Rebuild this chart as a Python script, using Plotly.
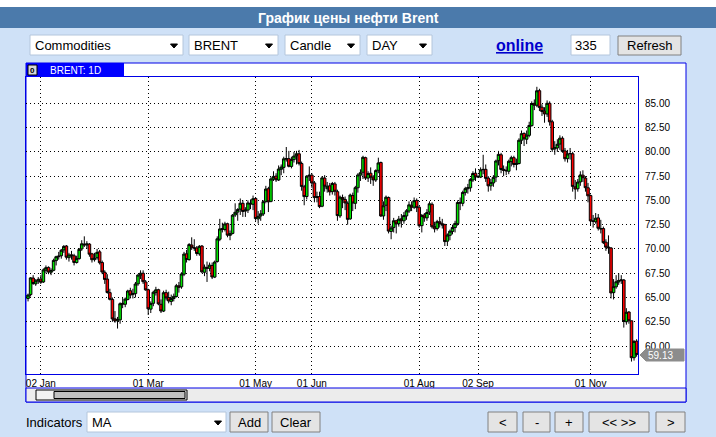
import pandas as pd
import plotly.graph_objects as go

W, H = 716, 437

# ICE Brent daily bars, 22 Dec 2017 .. 27 Nov 2018
closed_days = ["2017-12-25", "2018-01-01", "2018-03-30", "2018-05-28", "2018-07-04"]
extra_days = ["2018-09-02"]  # the feed carries a Sunday bar here

tick_days = ["2018-01-02", "2018-03-01", "2018-05-01", "2018-06-01",
             "2018-08-01", "2018-09-02", "2018-11-01"]
tick_text = ["02 Jan", "01 Mar", "01 May", "01 Jun", "01 Aug", "02 Sep", "01 Nov"]
price_ticks = [60, 62.5, 65, 67.5, 70, 72.5, 75, 77.5, 80, 82.5, 85]
last_price = "59.13"

open_prices = [
    64.9, 65.3, 67.0, 66.4, 66.7,  # Dec
    66.9, 66.6, 67.8, 68.1, 67.6, 67.8, 68.8, 69.2, 69.3, 69.9, 70.3, 69.1, 69.4, 69.3, 68.6, 69.0, 70.0, 70.5, 70.4, 70.5, 69.5, 68.9,  # Jan
    69.1, 69.7, 68.6, 67.6, 66.9, 65.5, 64.8, 62.8, 62.6, 62.7, 64.4, 64.3, 64.8, 65.7, 65.3, 65.4, 66.4, 67.3, 67.5, 66.6,  # Feb
    65.8, 63.8, 64.4, 65.5, 65.8, 64.3, 63.6, 65.5, 65.0, 64.6, 64.9, 65.1, 66.2, 66.1, 67.4, 69.5, 68.9, 70.4, 70.1, 70.1, 69.5,  # Mar
    70.3, 67.6, 68.1, 68.0, 68.3, 67.1, 68.7, 71.0, 72.1, 72.0, 72.6, 71.4, 71.6, 73.5, 73.8, 74.1, 74.7, 73.9, 74.0, 74.7, 74.6,  # Apr
    75.2, 73.1, 73.4, 73.6, 74.9, 76.2, 74.9, 77.2, 77.5, 77.1, 78.2, 78.4, 79.25, 79.3, 78.5, 79.2, 79.6, 79.8, 78.8, 76.4, 75.4, 77.5,  # May
    77.6, 76.8, 75.3, 75.4, 74.4, 77.3, 76.2, 76.5, 75.9, 76.7, 75.9, 73.4, 75.3, 75.1, 74.7, 73.1, 75.5, 74.7, 76.3, 77.6, 77.9,  # Jun
    79.4, 77.3, 77.8, 77.4, 77.1, 78.1, 78.9, 73.4, 74.5, 75.3, 71.8, 72.2, 72.9, 72.6, 73.1, 72.9, 73.4, 73.9, 74.5, 74.3, 75.0,  # Jul
    74.3, 72.4, 73.5, 73.2, 73.8, 74.6, 72.3, 72.1, 72.8, 72.6, 72.5, 70.8, 71.4, 71.8, 72.2, 72.6, 74.8, 74.7, 75.8, 76.2, 76.3, 77.1, 77.8,  # Aug
    77.42, 77.4, 78.2, 78.2, 77.3, 76.5, 76.8, 77.4, 79.1, 79.7, 78.2, 78.1, 78.0, 79.0, 79.4, 78.7, 78.8, 81.2, 81.9, 81.3, 81.7,  # Sep
    82.7, 85.0, 84.8, 86.3, 84.6, 84.2, 83.9, 85.0, 83.1, 80.3, 80.4, 80.8, 81.4, 80.1, 79.3, 79.8, 79.8, 76.4, 76.2, 76.9, 77.6, 77.3, 76.3,  # Oct
    75.5, 72.9, 72.8, 73.2, 72.1, 72.1, 70.7, 70.2, 70.1, 65.5, 66.1, 66.6, 66.8, 66.8, 62.5, 63.5, 62.6, 58.8, 60.5,  # Nov
]
high_prices = [
    65.4, 67.1, 67.3, 66.9, 67.1,
    67.3, 68.0, 68.3, 68.2, 68.0, 69.0, 69.3, 69.7, 70.0, 70.4, 70.4, 69.6, 69.8, 69.5, 69.3, 70.1, 70.9, 71.3, 70.8, 70.6, 69.6, 69.6,
    70.0, 69.9, 68.8, 67.8, 67.4, 65.9, 65.0, 63.6, 63.0, 64.5, 65.0, 65.0, 65.8, 66.0, 65.9, 66.6, 67.4, 67.8, 67.8, 66.8,
    65.9, 64.6, 65.7, 66.1, 65.9, 64.8, 65.7, 65.8, 65.6, 65.3, 65.4, 66.4, 66.6, 67.6, 69.7, 69.9, 70.6, 71.2, 71.0, 70.3, 70.4,
    70.4, 68.4, 68.7, 68.6, 68.6, 68.8, 71.3, 73.1, 72.7, 72.8, 72.7, 71.9, 73.6, 74.7, 74.2, 75.2, 75.0, 74.3, 75.0, 75.1, 75.5,
    75.3, 73.9, 74.0, 75.0, 76.5, 76.4, 77.4, 78.0, 77.8, 78.6, 78.7, 79.5, 80.5, 80.1, 79.5, 80.0, 80.1, 80.2, 79.0, 76.6, 77.6, 78.5,
    77.8, 77.0, 75.9, 75.9, 77.5, 77.6, 76.9, 76.8, 76.9, 76.9, 76.1, 75.5, 75.6, 75.4, 74.9, 75.7, 75.8, 76.5, 77.8, 78.2, 79.6,
    79.5, 78.0, 78.4, 77.6, 78.2, 79.4, 79.0, 74.9, 75.5, 75.4, 72.4, 73.2, 73.0, 73.4, 73.6, 73.8, 74.1, 74.9, 74.9, 75.3, 75.2,
    74.4, 73.6, 73.7, 74.1, 74.9, 74.8, 72.8, 73.0, 73.3, 73.1, 72.6, 71.6, 72.0, 72.5, 72.9, 75.0, 75.3, 76.0, 76.4, 76.7, 77.3, 78.0, 78.3,
    77.6, 78.4, 79.7, 78.7, 77.5, 77.2, 77.6, 79.2, 80.1, 79.9, 78.6, 78.5, 79.2, 79.6, 79.6, 79.3, 81.4, 82.2, 82.0, 82.2, 83.1,
    85.2, 85.4, 86.7, 86.5, 84.9, 84.6, 85.3, 85.2, 83.3, 81.1, 81.3, 81.7, 81.6, 80.4, 80.2, 80.4, 80.0, 77.1, 77.2, 78.0, 78.1, 77.5, 76.8,
    75.6, 73.5, 73.7, 73.6, 73.0, 72.3, 71.0, 71.4, 70.2, 66.9, 67.3, 67.5, 67.3, 66.9, 63.9, 63.6, 62.6, 60.6, 60.7,
]
low_prices = [
    64.6, 65.1, 66.3, 66.2, 66.4,
    66.4, 66.5, 67.5, 67.4, 67.3, 67.7, 68.3, 68.9, 69.0, 69.6, 68.9, 68.7, 68.9, 68.3, 68.5, 68.9, 69.8, 70.2, 70.0, 69.2, 68.6, 68.7,
    68.9, 68.4, 67.4, 66.4, 65.4, 64.7, 62.5, 62.4, 61.8, 62.3, 63.9, 64.0, 64.7, 64.9, 64.9, 65.0, 66.2, 66.9, 66.4, 65.7,
    63.2, 63.4, 64.1, 65.2, 64.2, 63.4, 63.5, 64.7, 64.4, 64.2, 64.6, 65.0, 65.5, 65.9, 67.2, 68.6, 68.8, 69.9, 69.8, 69.3, 69.3,
    67.5, 67.2, 66.6, 67.7, 66.9, 67.0, 68.6, 70.8, 71.7, 71.8, 71.2, 70.9, 71.5, 73.3, 72.9, 73.5, 73.3, 73.3, 73.7, 74.1, 74.0,
    72.9, 72.6, 72.9, 73.4, 74.7, 73.8, 74.8, 77.0, 76.9, 77.0, 77.6, 77.8, 79.0, 78.4, 78.3, 78.9, 78.7, 78.6, 76.0, 74.5, 75.1, 77.0,
    76.3, 74.8, 74.8, 74.2, 74.3, 75.9, 75.8, 75.5, 75.6, 75.5, 72.9, 73.2, 74.2, 74.0, 72.5, 73.0, 73.9, 74.1, 75.8, 77.0, 77.2,
    77.1, 76.9, 76.7, 76.5, 76.9, 77.8, 73.3, 73.0, 73.9, 71.6, 71.0, 71.7, 71.6, 72.3, 72.2, 72.6, 73.0, 73.7, 73.9, 74.1, 73.8,
    72.2, 71.7, 72.8, 72.9, 73.5, 72.1, 71.7, 71.9, 72.2, 72.1, 70.3, 70.3, 70.9, 71.5, 71.7, 72.4, 74.0, 74.4, 75.5, 75.7, 75.9, 76.9, 77.0,
    77.3, 77.3, 77.7, 76.9, 75.9, 76.0, 76.4, 76.9, 78.6, 77.8, 77.5, 77.6, 77.7, 78.5, 78.4, 78.1, 78.7, 80.8, 80.6, 80.8, 81.5,
    82.6, 84.3, 84.6, 84.2, 83.7, 83.0, 83.6, 82.7, 80.0, 79.7, 80.0, 80.2, 79.9, 79.0, 78.9, 79.2, 75.9, 75.1, 75.9, 76.5, 76.9, 75.9, 74.8,
    72.5, 72.2, 72.6, 71.9, 71.6, 70.5, 69.8, 69.5, 64.9, 64.8, 65.9, 66.3, 66.4, 61.9, 62.2, 62.3, 58.4, 58.5, 58.9,
]
close_prices = [
    65.25, 67.02, 66.44, 66.72, 66.87,
    66.57, 67.84, 68.07, 67.62, 67.78, 68.82, 69.20, 69.26, 69.87, 70.26, 69.15, 69.38, 69.31, 68.61, 69.03, 69.96, 70.53, 70.42, 70.52, 69.46, 68.89, 69.05,
    69.65, 68.58, 67.62, 66.86, 65.51, 64.81, 62.79, 62.59, 62.72, 64.36, 64.33, 64.84, 65.67, 65.25, 65.42, 66.39, 67.31, 67.50, 66.63, 65.78,
    63.83, 64.37, 65.54, 65.79, 64.34, 63.61, 65.49, 64.95, 64.64, 64.89, 65.12, 66.21, 66.05, 67.42, 69.47, 68.91, 70.45, 70.12, 70.11, 69.53, 70.27,
    67.64, 68.12, 68.02, 68.33, 67.11, 68.65, 71.04, 72.06, 72.02, 72.58, 71.42, 71.58, 73.48, 73.78, 74.06, 74.71, 73.86, 74.00, 74.74, 74.64, 75.17,
    73.13, 73.36, 73.62, 74.87, 76.17, 74.85, 77.21, 77.47, 77.12, 78.23, 78.43, 79.28, 79.30, 78.51, 79.22, 79.57, 79.80, 78.79, 76.44, 75.39, 77.50, 77.59,
    76.79, 75.29, 75.38, 74.36, 77.32, 76.46, 76.46, 75.88, 76.74, 75.94, 73.44, 75.34, 75.08, 74.74, 73.05, 75.55, 74.73, 76.31, 77.62, 77.85, 79.44,
    77.30, 77.76, 77.39, 77.11, 78.07, 78.86, 73.40, 74.45, 75.33, 71.84, 72.16, 72.90, 72.58, 73.07, 72.91, 73.44, 73.93, 74.54, 74.29, 74.97, 74.25,
    72.39, 73.45, 73.21, 73.75, 74.65, 72.28, 72.07, 72.81, 72.61, 72.46, 70.76, 71.43, 71.83, 72.21, 72.63, 74.78, 74.73, 75.82, 76.21, 76.31, 77.14, 77.77, 77.42,
    77.45, 78.15, 78.17, 77.27, 76.50, 76.83, 77.37, 79.06, 79.74, 78.18, 78.09, 78.05, 79.03, 79.40, 78.70, 78.80, 81.20, 81.87, 81.34, 81.72, 82.72,
    84.98, 84.80, 86.29, 84.58, 84.16, 83.91, 85.00, 83.09, 80.26, 80.43, 80.78, 81.41, 80.05, 79.29, 79.78, 79.83, 76.44, 76.17, 76.89, 77.62, 77.34, 76.31, 75.47,
    72.89, 72.83, 73.17, 72.13, 72.07, 70.65, 70.18, 70.12, 65.47, 66.12, 66.62, 66.76, 66.79, 62.53, 63.48, 62.60, 58.80, 60.48, 59.13,
]

days = pd.bdate_range("2017-12-22", "2018-11-27").strftime("%Y-%m-%d").tolist()
days = sorted((set(days) - set(closed_days)) | set(extra_days))
assert len(days) == len(open_prices) == len(high_prices) == len(low_prices) == len(close_prices)

UI_FONT = "Liberation Sans, Arial, sans-serif"
BG = "#cfe1f7"
BLUE = "#0000e6"

# pixel helpers (layout is drawn in page pixels)
def fx(px):
    return px / W

def fy(py):
    return 1 - py / H

shapes = []
annotations = []

def box(x0, y0, x1, y1, fill, line="rgba(0,0,0,0)", lw=1, layer="above"):
    shapes.append(dict(type="rect", xref="paper", yref="paper",
                       x0=fx(x0), x1=fx(x1), y0=fy(y1), y1=fy(y0),
                       fillcolor=fill, line=dict(color=line, width=lw), layer=layer))

def tri(cx, cy):
    path = "M{},{} L{},{} L{},{} Z".format(fx(cx - 3.5), fy(cy - 2), fx(cx + 3.5), fy(cy - 2), fx(cx), fy(cy + 2))
    shapes.append(dict(type="path", xref="paper", yref="paper", path=path,
                       fillcolor="#000", line=dict(color="#000", width=1)))

def label(x, y, s, size=13, color="#000", anchor="left", bold=False):
    annotations.append(dict(xref="paper", yref="paper", x=fx(x), y=fy(y),
                            text="<b>%s</b>" % s if bold else s, showarrow=False,
                            xanchor=anchor, yanchor="middle",
                            font=dict(size=size, color=color, family=UI_FONT)))

def dropdown(x0, x1, text):
    box(x0, 35, x1, 55, "white", "#b4c6dc")
    label(x0 + 3, 45, text)
    tri(x1 - 9, 46)

def button(x0, y0, x1, y1, text):
    box(x0, y0, x1, y1, "#e4e4e4", "#808080")
    label((x0 + x1) / 2, (y0 + y1) / 2, text, anchor="center")

# page frame
box(0, 0, 716, 7, "white", layer="below")
box(0, 7, 716, 28, "#4b7aab", layer="below")
label(348, 18, "График цены нефти Brent", size=14, color="white", anchor="center", bold=True)

# top controls
dropdown(30, 183, "Commodities")
dropdown(189, 278, "BRENT")
dropdown(285, 360, "Candle")
dropdown(367, 432, "DAY")
label(519, 45, "<u>online</u>", size=16, color="#0000cc", anchor="center", bold=True)
box(571, 35, 610, 55, "white", "#b4c6dc")
label(573, 45, "335")
button(618, 36, 681, 55, "Refresh")

# chart panel
box(26, 63, 686, 402, "white", BLUE, layer="below")
box(26, 388, 686, 402, "#ececec", BLUE)
box(36, 390, 187, 400, "#f2f2f2", "#000")
box(54, 391.5, 185, 398.5, "#c0c0c0", "#000")
box(26, 63, 124, 77, "#0000ff")
box(28, 65, 37, 75, "#d8d8d8", "#000")
label(32.5, 70, "0", size=8, anchor="center", bold=True)
label(48, 70, "BRENT: 1D", size=10, color="white")

# last price tag
tag = "M{},{} L{},{} L{},{} L{},{} L{},{} Z".format(
    fx(640), fy(355), fx(646), fy(349), fx(684), fy(349), fx(684), fy(361), fx(646), fy(361))
shapes.append(dict(type="path", xref="paper", yref="paper", path=tag,
                   fillcolor="#8c8c8c", line=dict(color="#8c8c8c", width=1)))
label(646, 355, last_price, size=10, color="white")

# bottom controls
label(24, 422, "Indicators")
box(87, 412, 226, 432, "white", "#b4c6dc")
label(90, 422, "MA")
tri(218, 423)
button(230, 412, 268, 432, "Add")
button(272, 412, 320, 432, "Clear")
button(488, 412, 517, 432, "&lt;")
button(523, 412, 550, 432, "-")
button(555, 412, 583, 432, "+")
button(589, 412, 649, 432, "&lt;&lt; &gt;&gt;")
button(656, 412, 685, 432, "&gt;")

fig = go.Figure(go.Candlestick(
    x=days, open=open_prices, high=high_prices, low=low_prices, close=close_prices,
    increasing=dict(fillcolor="#00e600", line=dict(color="#000000", width=1)),
    decreasing=dict(fillcolor="#ff0000", line=dict(color="#000000", width=1)),
    whiskerwidth=0, hoverinfo="x+y", showlegend=False,
))

grid = dict(showgrid=True, gridcolor="#000000", gridwidth=1, griddash="1px,3px",
            showline=True, mirror=True, linecolor=BLUE, linewidth=1,
            ticks="", zeroline=False, fixedrange=True,
            tickfont=dict(size=10, color="#000", family=UI_FONT))

fig.update_layout(
    width=W, height=H, autosize=False,
    margin=dict(l=0, r=0, t=0, b=0),
    paper_bgcolor=BG, plot_bgcolor="white",
    showlegend=False, boxgap=0.0, boxgroupgap=0.0,
    shapes=shapes, annotations=annotations,
    xaxis=dict(grid, type="category", domain=[fx(26), fx(638)], range=[-0.8, 238.55],
               tickmode="array", tickvals=tick_days, ticktext=tick_text,
               rangeslider=dict(visible=False)),
    yaxis=dict(grid, side="right", domain=[fy(374), fy(77)], range=[57.12, 87.71],
               tickmode="array", tickvals=price_ticks, tickformat=".2f",
               ticklabelstandoff=4),
)

# the page body has a default 8px margin; drop it so the figure fills the window
fig.write_html("out.html", config={"displayModeBar": False},
               post_script="document.body.style.margin='0';")
